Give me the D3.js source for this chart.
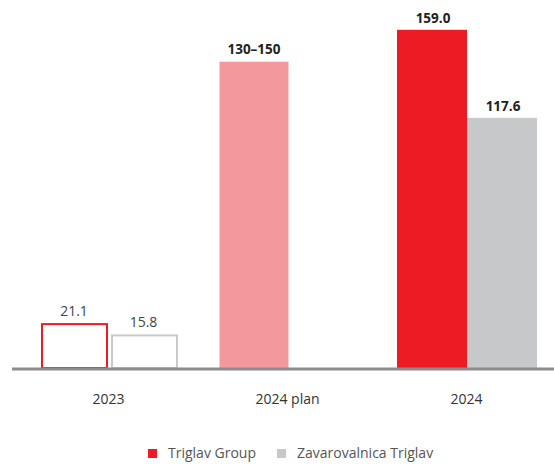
<!DOCTYPE html>
<html>
<head>
<meta charset="utf-8">
<script src="https://cdn.jsdelivr.net/npm/d3@7/dist/d3.min.js"></script>
<style>
  html, body { margin: 0; padding: 0; background: #fff; }
  svg { display: block; }
  text { font-family: "Open Sans", "Noto Sans", sans-serif; }
</style>
</head>
<body>
<svg id="chart" width="554" height="464"></svg>
<script>
// ---- data ----
const categories = ["2023", "2024 plan", "2024"];
const seriesNames = ["Triglav Group", "Zavarovalnica Triglav"];
const groupValues = [21.1, 144, 159.0];      // plan bar drawn at estimated height
const insurerValues = [15.8, null, 117.6];
const groupLabels = ["21.1", "130–150", "159.0"];
const insurerLabels = ["15.8", "", "117.6"];

// ---- layout ----
const svg = d3.select("#chart");
const baseY = 368;
const y = d3.scaleLinear().domain([0, 173]).range([baseY, 0]);
const xCenter = d3.scaleOrdinal().domain(categories).range([109.5, 254, 467]);
const xLabel = d3.scaleOrdinal().domain(categories).range([108, 287, 466]);
const sub = d3.scaleBand().domain(["group", "insurer"]).range([-70, 70]).paddingInner(0);

const red = "#ed1c24", pink = "#f4999b", grey = "#c7c8ca";

const rows = categories.map((c, i) => ({
  cat: c, i, g: groupValues[i], z: insurerValues[i], gl: groupLabels[i], zl: insurerLabels[i]
}));

const bars = svg.append("g");
const boldSize = 13.5, normSize = 14;

rows.forEach(r => {
  const cx = xCenter(r.cat);
  if (r.cat === "2023") {
    const inset = 1.5;
    [["group", r.g, red], ["insurer", r.z, "#c9c9c9"]].forEach(([k, v, col]) => {
      const x0 = cx + sub(k) + inset;
      const w = sub.bandwidth() - 2 * inset;
      bars.append("rect")
        .attr("x", x0 + 1).attr("y", y(v) + 1)
        .attr("width", w - 2).attr("height", baseY - y(v) - 1)
        .attr("fill", "#fff").attr("stroke", col).attr("stroke-width", 2);
    });
    bars.append("text").attr("x", cx + sub("group") + sub.bandwidth() / 2 - 0.5).attr("y", y(r.g) - 7)
      .attr("text-anchor", "middle").attr("font-size", normSize).attr("fill", "#444").text(r.gl);
    bars.append("text").attr("x", cx + sub("insurer") + sub.bandwidth() / 2 - 1).attr("y", y(r.z) - 7)
      .attr("text-anchor", "middle").attr("font-size", normSize).attr("fill", "#444").text(r.zl);
  } else if (r.z == null) {
    const w = 69;
    bars.append("rect").attr("x", cx - w / 2).attr("y", y(r.g))
      .attr("width", w).attr("height", baseY - y(r.g)).attr("fill", pink);
    bars.append("text").attr("x", cx).attr("y", y(r.g) - 8)
      .attr("text-anchor", "middle").attr("font-size", boldSize).attr("font-weight", "bold")
      .attr("fill", "#222").text(r.gl);
  } else {
    bars.append("rect").attr("x", cx + sub("group")).attr("y", y(r.g))
      .attr("width", sub.bandwidth()).attr("height", baseY - y(r.g)).attr("fill", red);
    bars.append("rect").attr("x", cx + sub("insurer")).attr("y", y(r.z))
      .attr("width", sub.bandwidth()).attr("height", baseY - y(r.z)).attr("fill", grey);
    bars.append("text").attr("x", cx + sub("group") + sub.bandwidth() / 2 + 1).attr("y", y(r.g) - 7)
      .attr("text-anchor", "middle").attr("font-size", boldSize).attr("font-weight", "bold")
      .attr("fill", "#222").text(r.gl);
    bars.append("text").attr("x", cx + sub("insurer") + sub.bandwidth() / 2 + 1).attr("y", y(r.z) - 7)
      .attr("text-anchor", "middle").attr("font-size", boldSize).attr("font-weight", "bold")
      .attr("fill", "#222").text(r.zl);
  }
});

// baseline
svg.append("line").attr("x1", 12).attr("x2", 554).attr("y1", baseY + 1).attr("y2", baseY + 1)
  .attr("stroke", "#8c8c8c").attr("stroke-width", 3);

// axis labels
const axis = d3.axisBottom(xLabel).tickSize(0).tickPadding(0);
const ax = svg.append("g").attr("transform", "translate(0,404)").call(axis);
ax.select(".domain").remove();
ax.selectAll("text").attr("font-family", "'Open Sans', sans-serif").attr("font-size", 14)
  .attr("fill", "#333").attr("dy", "0").attr("y", 0);

// legend
const legend = svg.append("g").attr("transform", "translate(0,458)");
const legendItems = [
  { name: seriesNames[0], color: red, x: 148 },
  { name: seriesNames[1], color: grey, x: 277 }
];
legendItems.forEach(d => {
  legend.append("rect").attr("x", d.x).attr("y", -9).attr("width", 9).attr("height", 9).attr("fill", d.color);
  legend.append("text").attr("x", d.x + 20).attr("y", 0).attr("font-size", 14)
    .attr("fill", "#555").text(d.name);
});
</script>
</body>
</html>
